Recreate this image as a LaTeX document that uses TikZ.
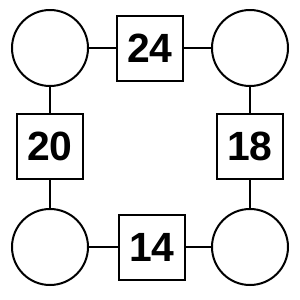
\documentclass[tikz,border=0pt]{standalone}
\usepackage{fontspec}
\setmainfont{Liberation Sans}
\usepackage{tikz}
\tikzset{x=1bp, y=-1bp,
  ring/.style={draw, circle, line width=2bp, minimum size=76bp, inner sep=0pt},
  numbox/.style={draw, rectangle, line width=2bp, minimum size=65bp, inner sep=0pt,
    font=\fontsize{41}{41}\selectfont\bfseries},
  link/.style={line width=2bp}}

\begin{document}
\begin{tikzpicture}
\useasboundingbox (0,0) rectangle (300,300);
\node[ring] (tl) at (50,48) {};
\node[ring] (tr) at (250,48) {};
\node[ring] (bl) at (50,247) {};
\node[ring] (br) at (250,247) {};
\node[numbox] (top) at (150,48) {24};
\node[numbox] (lft) at (50,146) {20};
\node[numbox] (rgt) at (250,146) {18};
\node[numbox] (bot) at (152,247) {14};
\draw[link] (tl) -- (top) -- (tr);
\draw[link] (bl) -- (bot) -- (br);
\draw[link] (tl) -- (lft) -- (bl);
\draw[link] (tr) -- (rgt) -- (br);
\end{tikzpicture}
\end{document}
